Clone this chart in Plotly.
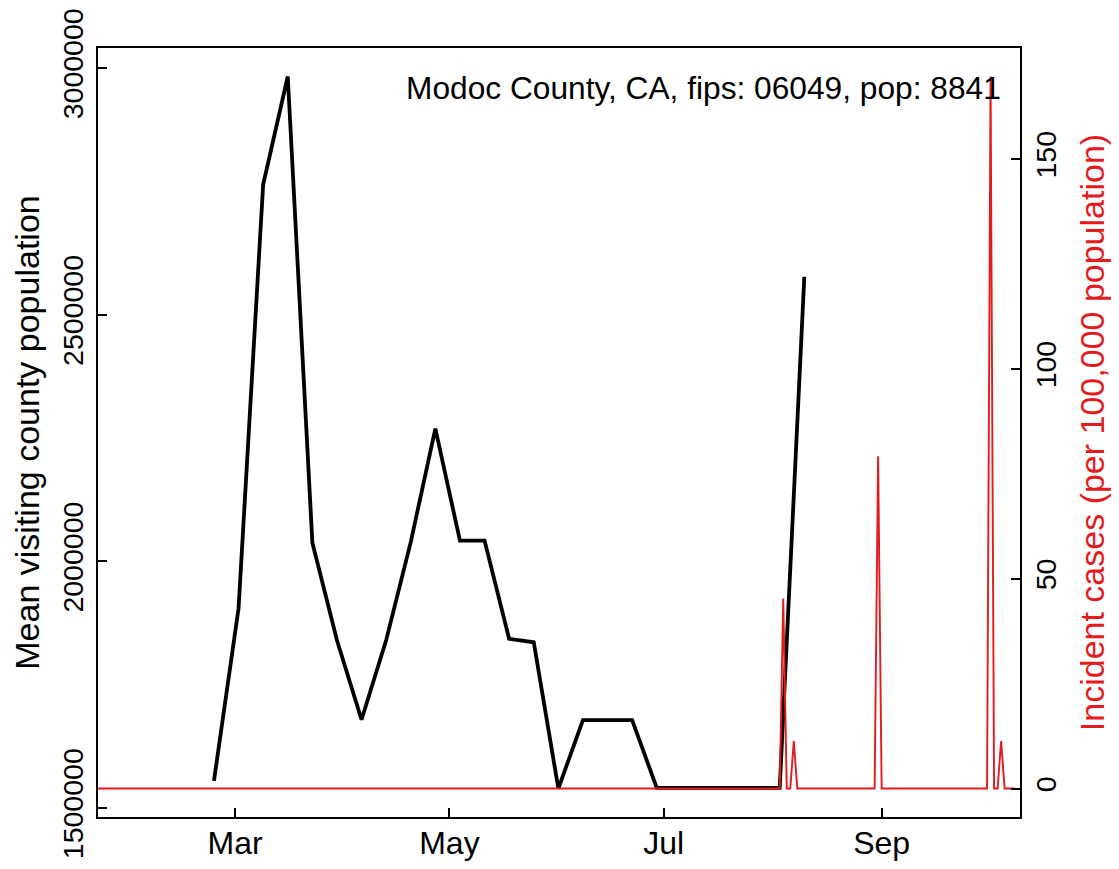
import pandas as pd
import plotly.graph_objects as go

# ---------------- data ----------------
county_label = "Modoc County, CA, fips: 06049, pop: 8841"
population = 8841

visit_dates = [
    "2020-02-24", "2020-03-02", "2020-03-09", "2020-03-16", "2020-03-23",
    "2020-03-30", "2020-04-06", "2020-04-13", "2020-04-20", "2020-04-27",
    "2020-05-04", "2020-05-11", "2020-05-18", "2020-05-25", "2020-06-01",
    "2020-06-08", "2020-06-15", "2020-06-22", "2020-06-29", "2020-07-06",
    "2020-07-13", "2020-07-20", "2020-07-27", "2020-08-03", "2020-08-10",
]
visit_values = [
    1555000, 1905000, 2764000, 2983000, 2038000,
    1840000, 1679000, 1840000, 2039000, 2269000,
    2042000, 2042000, 1843000, 1836000, 1539500,
    1678000, 1678000, 1678000, 1541000, 1541000,
    1541000, 1541000, 1541000, 1541000, 2577000,
]

case_first_day = "2020-01-22"
case_last_day = "2020-10-09"
case_dates = ["2020-08-04", "2020-08-07", "2020-08-31", "2020-10-02", "2020-10-05"]
case_counts = [4, 1, 7, 15, 1]

x_ticks = ["2020-03-01", "2020-05-01", "2020-07-01", "2020-09-01"]
x_tick_labels = ["Mar", "May", "Jul", "Sep"]
left_ticks = [1500000, 2000000, 2500000, 3000000]
right_ticks = [0, 50, 100, 150]
x_range = ["2020-01-22", "2020-10-10 09:00"]

# daily incident-case series (days without cases are zero)
days = pd.date_range(case_first_day, case_last_day, freq="D")
daily = pd.Series(0.0, index=days)
for d, c in zip(case_dates, case_counts):
    daily[pd.Timestamp(d)] = c * 100000 / population


def r_range(values):
    lo, hi = min(values), max(values)
    span = hi - lo
    return [lo - 0.04 * span, hi + 0.04 * span]


RED = "#E41A1C"
FONT = "Liberation Sans, Arial, Helvetica, sans-serif"

fig = go.Figure()
fig.add_trace(go.Scatter(
    x=list(daily.index), y=list(daily.values), mode="lines",
    line=dict(color=RED, width=1.9), yaxis="y2", showlegend=False,
    name="Incident cases",
))
fig.add_trace(go.Scatter(
    x=pd.to_datetime(visit_dates), y=visit_values, mode="lines",
    line=dict(color="black", width=3.8), yaxis="y", showlegend=False,
    name="Mean visiting county population",
))

axis_common = dict(
    showline=True, linecolor="black", linewidth=2,
    ticks="inside", ticklen=9, tickwidth=2, tickcolor="black",
    showgrid=False, zeroline=False,
)

# the page adds an 8 px body margin on every side, so the figure is made
# 16 px smaller than the window to avoid overflow
fig.update_layout(
    width=1103, height=853,
    margin=dict(l=90, r=91, t=40, b=44, autoexpand=False),
    paper_bgcolor="white", plot_bgcolor="white",
    font=dict(family=FONT, color="black"),
    xaxis=dict(
        type="date", range=x_range, tickvals=x_ticks, ticktext=x_tick_labels,
        tickfont=dict(size=32), mirror=True, ticklabelstandoff=-3,
        **axis_common,
    ),
    yaxis=dict(
        range=r_range(visit_values), tickvals=left_ticks,
        ticktext=[str(v) for v in left_ticks], tickangle=-90,
        tickfont=dict(size=28.5), ticklabelstandoff=2,
        title=dict(text="Mean visiting county population",
                   font=dict(size=34, color="black"), standoff=14),
        automargin=False,
        **axis_common,
    ),
    yaxis2=dict(
        overlaying="y", side="right", range=r_range(list(daily.values)),
        tickvals=right_ticks, ticktext=[str(v) for v in right_ticks],
        tickangle=-90, tickfont=dict(size=28.5), ticklabelstandoff=0,
        title=dict(text="Incident cases (per 100,000 population)",
                   font=dict(size=34, color=RED), standoff=22),
        automargin=False,
        **axis_common,
    ),
    annotations=[dict(
        text=county_label, xref="paper", yref="paper",
        x=1 - 17 / 922, y=(769 - 40) / 769,
        xanchor="right", yanchor="middle", showarrow=False,
        font=dict(size=31.7, color="black"),
    )],
)

fig.write_html("out.html")
